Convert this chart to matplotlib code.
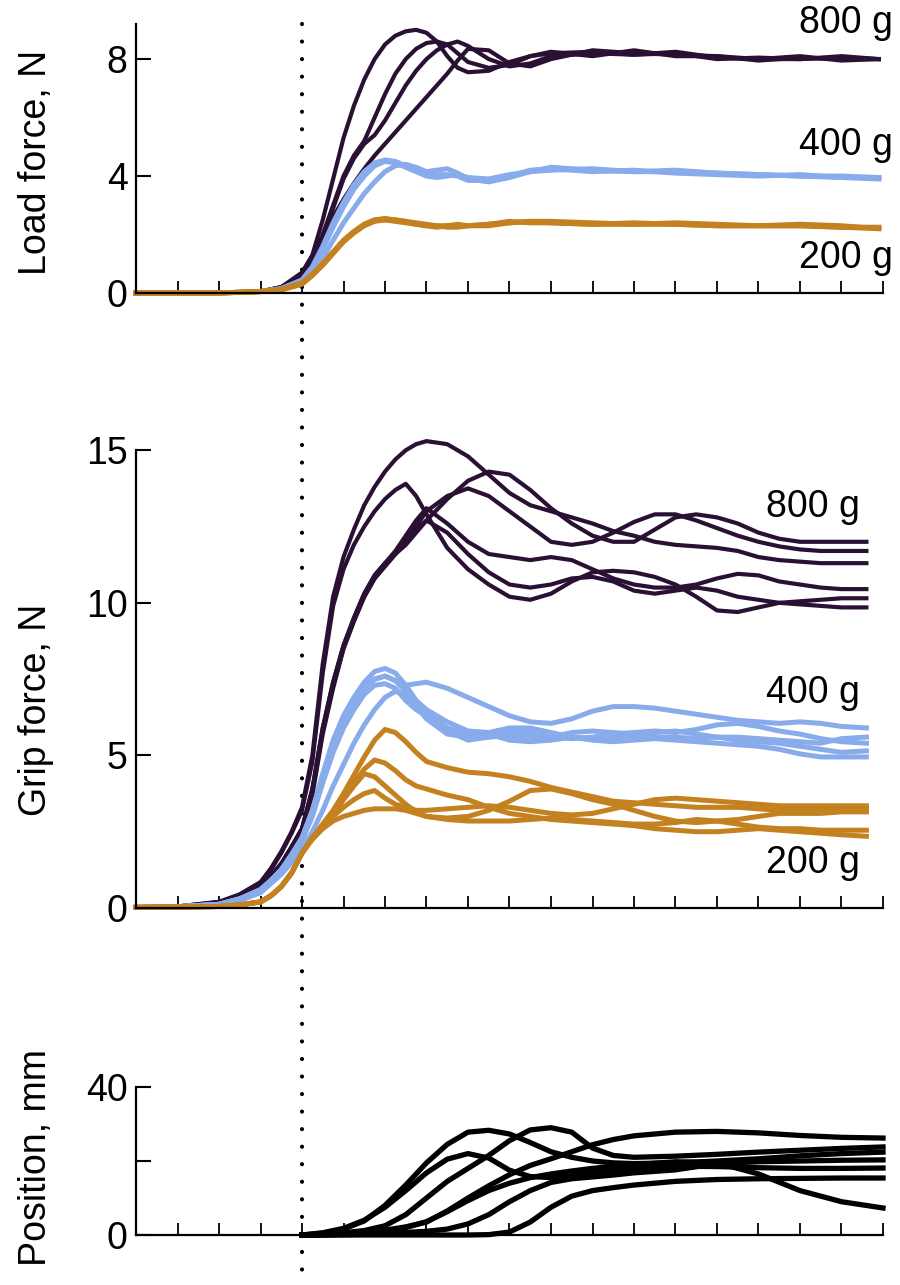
import numpy as np
import matplotlib
matplotlib.use("Agg")
import matplotlib.pyplot as plt
from matplotlib.lines import Line2D

plt.rcParams['font.family'] = ['Liberation Sans', 'DejaVu Sans']

# ---- load force (top panel) ----
t_load = [0, 1, 2, 3, 3.5, 4, 4.25, 4.5, 4.75, 5, 5.25, 5.5, 5.75, 6, 6.25, 6.5, 6.75,
          7, 7.25, 7.5, 7.75, 8, 8.5, 9, 9.5, 10, 11, 12, 13, 14, 15, 16, 17, 17.9]
load_800 = [
    [0, 0, 0, 0.05, 0.2, 0.7, 1.3, 2.5, 3.9, 5.3, 6.4, 7.3, 8.0, 8.5, 8.8, 8.95, 9.0,
     8.9, 8.6, 8.1, 7.7, 7.55, 7.6, 7.9, 8.1, 8.2, 8.25, 8.15, 8.2, 8.0, 8.05, 8.0, 8.05, 8.0],
    [0, 0, 0, 0.05, 0.2, 0.6, 1.1, 2.0, 3.0, 4.0, 4.7, 5.2, 6.0, 6.8, 7.5, 8.0, 8.35,
     8.55, 8.6, 8.5, 8.2, 7.9, 7.7, 7.8, 8.1, 8.25, 8.1, 8.3, 8.1, 8.1, 7.95, 8.05, 8.0, 8.0],
    [0, 0, 0, 0.05, 0.2, 0.55, 1.0, 1.9, 2.9, 3.9, 4.6, 5.1, 5.4, 5.9, 6.5, 7.1, 7.6,
     8.0, 8.3, 8.5, 8.6, 8.45, 8.0, 7.75, 7.85, 8.1, 8.2, 8.15, 8.25, 8.05, 8.0, 8.1, 7.95, 8.0],
    [0, 0, 0, 0.05, 0.15, 0.5, 0.95, 1.8, 2.6, 3.2, 3.75, 4.25, 4.7, 5.1, 5.5, 5.9, 6.3,
     6.7, 7.1, 7.5, 7.95, 8.35, 8.3, 7.85, 7.75, 8.0, 8.3, 8.2, 8.15, 8.1, 8.0, 8.0, 8.1, 8.0],
]
load_400 = [
    [0, 0, 0, 0.05, 0.15, 0.45, 0.9, 1.6, 2.4, 3.1, 3.7, 4.15, 4.45, 4.55, 4.5, 4.35, 4.2,
     4.1, 4.05, 4.05, 4.0, 3.85, 3.85, 4.0, 4.2, 4.25, 4.15, 4.2, 4.1, 4.05, 4.0, 4.05, 3.95, 3.95],
    [0, 0, 0, 0.05, 0.12, 0.35, 0.7, 1.2, 1.8, 2.4, 2.9, 3.4, 3.8, 4.15, 4.35, 4.4, 4.3,
     4.15, 4.2, 4.25, 4.1, 3.9, 3.8, 3.95, 4.15, 4.3, 4.2, 4.15, 4.2, 4.1, 4.05, 4.0, 3.95, 3.9],
    [0, 0, 0, 0.05, 0.15, 0.42, 0.85, 1.5, 2.25, 2.95, 3.55, 4.0, 4.35, 4.5, 4.45, 4.3, 4.15,
     4.0, 3.95, 4.0, 4.05, 3.95, 3.9, 4.05, 4.15, 4.2, 4.25, 4.15, 4.15, 4.1, 4.05, 4.0, 4.0, 3.95],
]
load_200 = [
    [0, 0, 0, 0.05, 0.12, 0.35, 0.65, 1.0, 1.4, 1.8, 2.1, 2.35, 2.5, 2.5, 2.45, 2.4, 2.35,
     2.3, 2.3, 2.3, 2.3, 2.3, 2.35, 2.45, 2.4, 2.4, 2.35, 2.35, 2.4, 2.35, 2.3, 2.3, 2.25, 2.25],
    [0, 0, 0, 0.05, 0.1, 0.3, 0.6, 0.95, 1.35, 1.75, 2.05, 2.3, 2.45, 2.5, 2.5, 2.45, 2.4,
     2.35, 2.3, 2.25, 2.25, 2.3, 2.3, 2.4, 2.45, 2.45, 2.4, 2.35, 2.35, 2.3, 2.3, 2.35, 2.3, 2.2],
    [0, 0, 0, 0.05, 0.12, 0.33, 0.62, 1.0, 1.4, 1.8, 2.1, 2.35, 2.5, 2.55, 2.5, 2.45, 2.35,
     2.3, 2.25, 2.3, 2.35, 2.3, 2.35, 2.4, 2.45, 2.4, 2.35, 2.4, 2.35, 2.3, 2.3, 2.3, 2.25, 2.2],
]

# ---- grip force (middle panel) ----
t_grip = [0, 1, 2, 2.5, 3, 3.25, 3.5, 3.75, 4, 4.25, 4.5, 4.75, 5, 5.25, 5.5, 5.75, 6,
          6.25, 6.5, 6.75, 7, 7.5, 8, 8.5, 9, 9.5, 10, 10.5, 11, 11.5, 12, 12.5, 13,
          13.5, 14, 14.5, 15, 15.5, 16, 16.5, 17, 17.6]
grip_800 = [
    [0.02, 0.05, 0.2, 0.45, 0.85, 1.3, 1.85, 2.5, 3.3, 5.0, 8.0, 10.2, 11.5, 12.4, 13.2, 13.8,
     14.3, 14.7, 15.0, 15.2, 15.3, 15.2, 14.8, 14.2, 13.6, 13.2, 13.0, 12.8, 12.6, 12.35, 12.2,
     12.0, 11.9, 11.85, 11.8, 11.7, 11.5, 11.4, 11.35, 11.3, 11.3, 11.3],
    [0.02, 0.05, 0.2, 0.42, 0.8, 1.25, 1.8, 2.45, 3.2, 4.8, 7.7, 9.9, 11.1, 11.9, 12.5, 13.0,
     13.4, 13.7, 13.9, 13.5, 12.9, 11.8, 11.1, 10.6, 10.2, 10.1, 10.3, 10.7, 11.0, 11.05, 11.0,
     10.85, 10.6, 10.2, 9.75, 9.7, 9.85, 10.0, 10.05, 10.1, 10.15, 10.15],
    [0.02, 0.04, 0.15, 0.35, 0.7, 1.05, 1.45, 2.0, 2.6, 3.9, 5.9, 7.4, 8.6, 9.5, 10.3, 10.9,
     11.3, 11.6, 11.9, 12.3, 12.7, 13.4, 14.0, 14.3, 14.2, 13.7, 13.1, 12.6, 12.2, 12.0, 12.0,
     12.4, 12.8, 12.9, 12.8, 12.6, 12.3, 12.1, 12.0, 12.0, 12.0, 12.0],
    [0.02, 0.04, 0.15, 0.35, 0.7, 1.05, 1.45, 2.0, 2.6, 3.8, 5.8, 7.3, 8.5, 9.4, 10.2, 10.8,
     11.2, 11.6, 12.0, 12.5, 13.0, 13.5, 13.75, 13.5, 13.0, 12.5, 12.0, 11.9, 12.0, 12.3, 12.65,
     12.9, 12.9, 12.7, 12.45, 12.2, 12.0, 11.85, 11.75, 11.7, 11.7, 11.7],
    [0.02, 0.04, 0.15, 0.35, 0.7, 1.05, 1.45, 2.0, 2.6, 3.9, 5.9, 7.4, 8.6, 9.5, 10.3, 10.9,
     11.3, 11.7, 12.2, 12.7, 13.1, 12.6, 12.0, 11.6, 11.5, 11.4, 11.5, 11.4, 11.1, 10.8, 10.6,
     10.5, 10.5, 10.6, 10.8, 10.95, 10.9, 10.7, 10.6, 10.5, 10.45, 10.45],
    [0.02, 0.04, 0.15, 0.35, 0.7, 1.05, 1.4, 1.95, 2.5, 3.7, 5.7, 7.2, 8.5, 9.4, 10.2, 10.8,
     11.2, 11.6, 12.0, 12.4, 12.7, 12.3, 11.6, 11.0, 10.6, 10.5, 10.6, 10.8, 10.85, 10.7, 10.4,
     10.3, 10.4, 10.5, 10.4, 10.2, 10.1, 10.0, 9.95, 9.9, 9.85, 9.85],
]
grip_400 = [
    [0.02, 0.04, 0.12, 0.3, 0.6, 0.9, 1.25, 1.75, 2.3, 3.2, 4.4, 5.5, 6.3, 6.9, 7.4, 7.75,
     7.85, 7.7, 7.3, 6.8, 6.4, 5.9, 5.7, 5.6, 5.65, 5.6, 5.6, 5.75, 5.8, 5.75, 5.7,
     5.75, 5.8, 5.7, 5.6, 5.5, 5.45, 5.4, 5.3, 5.2, 5.1, 5.15],
    [0.02, 0.04, 0.12, 0.3, 0.6, 0.9, 1.25, 1.7, 2.25, 3.1, 4.2, 5.3, 6.1, 6.7, 7.2, 7.5,
     7.6, 7.45, 7.3, 7.35, 7.4, 7.2, 6.9, 6.6, 6.3, 6.1, 6.05, 6.2, 6.45, 6.6, 6.6,
     6.55, 6.45, 6.35, 6.25, 6.15, 6.1, 6.05, 6.1, 6.05, 5.95, 5.9],
    [0.02, 0.04, 0.12, 0.3, 0.55, 0.85, 1.2, 1.65, 2.2, 3.0, 4.1, 5.1, 5.9, 6.5, 7.0, 7.3,
     7.35, 7.2, 6.8, 6.5, 6.3, 5.8, 5.5, 5.6, 5.8, 5.75, 5.6, 5.55, 5.6, 5.7, 5.75,
     5.8, 5.75, 5.85, 6.0, 6.05, 5.95, 5.8, 5.7, 5.55, 5.45, 5.4],
    [0.02, 0.04, 0.1, 0.25, 0.5, 0.8, 1.1, 1.5, 1.9, 2.5, 3.2, 4.0, 4.7, 5.4, 6.0, 6.5,
     6.9, 7.1, 7.0, 6.6, 6.2, 5.7, 5.6, 5.7, 5.5, 5.45, 5.5, 5.6, 5.5, 5.45, 5.5,
     5.55, 5.5, 5.45, 5.4, 5.35, 5.3, 5.2, 5.05, 4.95, 4.95, 4.95],
    [0.02, 0.04, 0.12, 0.3, 0.6, 0.9, 1.25, 1.75, 2.3, 3.2, 4.3, 5.4, 6.2, 6.8, 7.25, 7.5,
     7.6, 7.45, 7.1, 6.8, 6.5, 6.1, 5.8, 5.75, 5.9, 5.9, 5.75, 5.6, 5.55, 5.6, 5.65,
     5.6, 5.6, 5.55, 5.6, 5.6, 5.55, 5.5, 5.45, 5.4, 5.55, 5.6],
]
grip_200 = [
    [0.02, 0.03, 0.05, 0.1, 0.2, 0.4, 0.7, 1.15, 1.8, 2.3, 2.75, 3.2, 3.75, 4.35, 4.95, 5.5,
     5.85, 5.75, 5.45, 5.1, 4.8, 4.6, 4.45, 4.4, 4.3, 4.15, 3.95, 3.8, 3.65, 3.5, 3.45,
     3.4, 3.35, 3.3, 3.3, 3.3, 3.25, 3.2, 3.2, 3.25, 3.25, 3.25],
    [0.02, 0.03, 0.05, 0.1, 0.2, 0.4, 0.7, 1.15, 1.8, 2.3, 2.7, 3.1, 3.6, 4.1, 4.55, 4.85,
     4.75, 4.5, 4.2, 4.0, 3.9, 3.7, 3.55, 3.3, 3.1, 3.0, 2.9, 2.85, 2.8, 2.75, 2.7,
     2.6, 2.55, 2.5, 2.5, 2.55, 2.6, 2.55, 2.5, 2.45, 2.4, 2.35],
    [0.02, 0.03, 0.05, 0.1, 0.2, 0.4, 0.7, 1.15, 1.8, 2.3, 2.7, 3.1, 3.55, 4.0, 4.4, 4.3,
     4.0, 3.7, 3.4, 3.15, 3.0, 2.95, 3.0, 3.2, 3.5, 3.85, 3.9, 3.75, 3.55, 3.4, 3.2,
     3.0, 2.85, 2.8, 2.85, 2.9, 3.0, 3.1, 3.1, 3.1, 3.15, 3.15],
    [0.02, 0.03, 0.05, 0.1, 0.2, 0.4, 0.7, 1.15, 1.8, 2.3, 2.7, 3.0, 3.3, 3.55, 3.75, 3.85,
     3.6, 3.4, 3.3, 3.2, 3.2, 3.25, 3.3, 3.35, 3.3, 3.2, 3.1, 3.05, 3.1, 3.25, 3.4,
     3.55, 3.6, 3.55, 3.5, 3.45, 3.4, 3.35, 3.35, 3.35, 3.35, 3.35],
    [0.02, 0.03, 0.05, 0.1, 0.2, 0.4, 0.7, 1.15, 1.8, 2.25, 2.6, 2.85, 3.0, 3.1, 3.2, 3.25,
     3.25, 3.25, 3.2, 3.1, 3.0, 2.9, 2.85, 2.85, 2.85, 2.9, 2.95, 2.9, 2.85, 2.8, 2.75,
     2.75, 2.8, 2.9, 2.85, 2.75, 2.65, 2.6, 2.6, 2.55, 2.55, 2.55],
]

# ---- position (bottom panel) ----
t_pos = [4, 4.5, 5, 5.5, 6, 6.5, 7, 7.5, 8, 8.5, 9, 9.5, 10, 10.5, 11, 11.5, 12,
         13, 14, 15, 16, 17, 18]
position = [
    [0, 0.5, 1.6, 3.8, 8.0, 13.5, 19.5, 24.5, 27.8, 28.3, 27.3, 25.0, 22.5, 21.0, 20.0, 19.5,
     19.3, 19.5, 20.0, 20.6, 21.4, 22.0, 22.4],
    [0, 0.6, 1.8, 4.0, 7.5, 12.0, 16.8, 20.5, 22.0, 20.8, 17.5, 15.8, 15.5, 16.0, 16.8, 17.4,
     17.9, 18.6, 18.5, 18.2, 18.0, 18.0, 18.1],
    [0, 0.2, 0.6, 1.2, 2.5, 5.5, 10.0, 14.5, 18.0, 21.5, 25.5, 28.4, 29.0, 27.8, 23.5, 21.5,
     21.0, 21.3, 21.8, 22.4, 22.9, 23.4, 23.8],
    [0, 0.1, 0.3, 0.7, 1.3, 2.2, 3.5, 6.5, 10.0, 13.3, 16.3, 18.8, 20.6, 22.5, 24.4, 25.8,
     26.8, 27.8, 28.0, 27.6, 26.9, 26.4, 26.2],
    [0, 0, 0.1, 0.2, 0.4, 0.7, 1.0, 1.6, 3.0, 5.5, 9.0, 12.0, 14.2, 15.2, 15.7, 16.2,
     16.8, 17.6, 19.3, 19.8, 20.0, 20.2, 20.3],
    [0, 0, 0, 0, 0, 0, 0, 0, 0, 0.1, 0.8, 3.5, 7.5, 10.5, 12.0, 12.8,
     13.5, 14.5, 15.0, 15.2, 15.3, 15.4, 15.4],
    [0, 0.05, 0.2, 0.5, 1.0, 2.0, 3.6, 6.3, 9.3, 12.0, 14.0, 15.5, 16.5, 17.3, 18.0, 18.6,
     19.0, 19.8, 19.5, 16.5, 12.0, 9.0, 7.3],
]

c800 = '#2a1133'
c400 = '#88abeb'
c200 = '#c4811f'
FS = 27

fig = plt.figure(figsize=(9, 12.85), dpi=100)
L, W = 136 / 900, 747 / 900
H = 1285


def make_ax(y_top, y_bot):
    ax = fig.add_axes([L, 1 - y_bot / H, W, (y_bot - y_top) / H])
    ax.patch.set_visible(False)
    for s in ('top', 'right'):
        ax.spines[s].set_visible(False)
    for s in ('left', 'bottom'):
        ax.spines[s].set_linewidth(1.6)
    ax.set_xlim(0, 18)
    ax.set_xticks(range(19))
    ax.set_xticklabels([])
    ax.tick_params(axis='x', direction='in', length=9, width=1.3)
    ax.tick_params(axis='y', direction='in', length=11, width=1.5, labelsize=FS, pad=6)
    return ax


# top
ax1 = make_ax(24, 293)
ax1.set_ylim(0, 9.2)
ax1.set_yticks([0, 4, 8])
for y in load_800:
    ax1.plot(t_load, y, color=c800, lw=3.0, clip_on=False, solid_joinstyle='round')
for y in load_400:
    ax1.plot(t_load, y, color=c400, lw=3.6, clip_on=False, solid_joinstyle='round')
for y in load_200:
    ax1.plot(t_load, y, color=c200, lw=3.6, clip_on=False, solid_joinstyle='round')

# middle
ax2 = make_ax(435, 908)
ax2.set_ylim(0, 15.5)
ax2.set_yticks([0, 5, 10, 15])
ax2.spines['left'].set_bounds(0, 15)
for y in grip_800:
    ax2.plot(t_grip, y, color=c800, lw=3.0, clip_on=False, solid_joinstyle='round')
for y in grip_400:
    ax2.plot(t_grip, y, color=c400, lw=3.6, clip_on=False, solid_joinstyle='round')
for y in grip_200:
    ax2.plot(t_grip, y, color=c200, lw=3.6, clip_on=False, solid_joinstyle='round')

# bottom
ax3 = make_ax(1087, 1235)
ax3.set_ylim(0, 40)
ax3.set_yticks([0, 20, 40])
ax3.set_yticklabels(['0', '', '40'])
for y in position:
    ax3.plot(t_pos, y, color='black', lw=3.8, clip_on=False, solid_joinstyle='round')

# y labels
fig.text(36 / 900, 1 - 162 / H, 'Load force, N', rotation=90, ha='center', va='center', fontsize=FS)
fig.text(36 / 900, 1 - 710 / H, 'Grip force, N', rotation=90, ha='center', va='center', fontsize=FS)
fig.text(36 / 900, 1 - 1158 / H, 'Position, mm', rotation=90, ha='center', va='center', fontsize=FS)

# weight labels
for txt, xr, yc in [('800 g', 893, 23), ('400 g', 893, 145), ('200 g', 893, 258),
                    ('800 g', 860, 507), ('400 g', 860, 693), ('200 g', 860, 863)]:
    fig.text(xr / 900, 1 - yc / H, txt, ha='right', va='center', fontsize=FS)

# dotted onset line through all panels
fig.add_artist(Line2D([302 / 900, 302 / 900], [1 - 24 / H, 0], transform=fig.transFigure,
                      color='black', lw=3.0, linestyle=(0, (0.01, 4.2)),
                      dash_capstyle='round', zorder=-1))

fig.savefig('out.png', dpi=100, facecolor='white')
